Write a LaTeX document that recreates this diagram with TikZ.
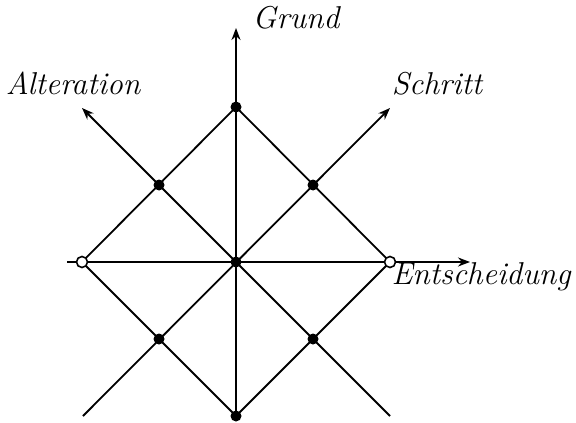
\documentclass[tikz,border=0pt]{standalone}
\usetikzlibrary{arrows.meta}
\begin{document}
\begin{tikzpicture}[x=0.5pt,y=-0.5pt,
  line width=0.9pt,
  dot/.style={circle,fill=black,inner sep=0pt,minimum size=5.5pt},
  odot/.style={circle,draw=black,fill=white,line width=0.8pt,inner sep=0pt,minimum size=5.5pt},
  lab/.style={font=\fontsize{15.8}{19}\selectfont\itshape,inner sep=0pt},
  axis/.style={-{Stealth[length=6pt,width=4.5pt]}}]
\useasboundingbox (0,0) rectangle (576,422);
% end points
\coordinate (vtip) at (236,28);
\coordinate (htail) at (67,262);
\coordinate (htip) at (470,262);
\coordinate (atail) at (390,416);
\coordinate (atip) at (82,108);
\coordinate (stail) at (83,416);
\coordinate (stip) at (390,108);
% dot positions
\coordinate (C) at (236,262);
\coordinate (T) at (236,107);
\coordinate (B) at (236,416);
\coordinate (L) at (82,262);
\coordinate (R) at (390,262);
% lines
\draw (T) -- (R) -- (B) -- (L) -- cycle;
\draw[axis] (B) -- (vtip);
\draw[axis] (htail) -- (htip);
\draw[axis] (atail) -- (atip);
\draw[axis] (stail) -- (stip);
% nodes
\node[dot] (c) at (C) {};
\node[dot] (t) at (T) {};
\node[dot] (b) at (B) {};
\node[odot] (l) at (L) {};
\node[odot] (r) at (R) {};
\node[dot] (ul) at (159,185) {};
\node[dot] (ur) at (313,185) {};
\node[dot] (ll) at (159,339) {};
\node[dot] (lr) at (313,339) {};
% labels
\node[lab] (grund) at (296,18) {Grund};
\node[lab] (alt) at (73,83) {Alteration};
\node[lab] (schr) at (437,84) {Schritt};
\node[lab] (ent) at (481,277) {Entscheidung};
\end{tikzpicture}
\end{document}
